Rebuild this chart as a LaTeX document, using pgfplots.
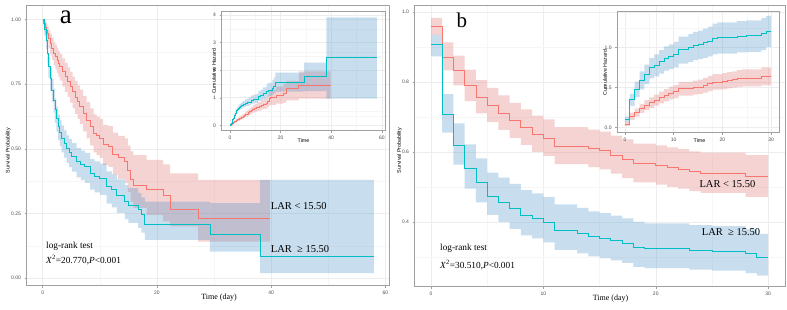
\documentclass[border=0pt]{standalone}
\usepackage{fontspec}
\setmainfont{Liberation Serif}
\setsansfont{Liberation Sans}
\usepackage{pgfplots}
\usepackage{pgfplotstable}
\pgfplotsset{compat=1.18}
\usepgfplotslibrary{fillbetween}
\definecolor{kmred}{HTML}{F8766D}
\definecolor{bandred}{HTML}{E07070}
\definecolor{kmblue}{HTML}{00BFC4}
\definecolor{bandblue}{HTML}{4A94C8}
\definecolor{tickgray}{HTML}{4D4D4D}
\definecolor{framegray}{HTML}{A0A0A0}

% columns: t = time, s = survival, lo/hi = survival CI, h = cumulative hazard, hlo/hhi = its CI
\pgfplotstableread{
t     s     lo    hi    h      hlo    hhi
0     1.000 1.000 1.000 0      0      0
0.2   0.985 0.972 0.996 0.0151 0.0040 0.0284
0.4   0.970 0.945 0.992 0.0305 0.0080 0.0566
0.6   0.958 0.928 0.984 0.0429 0.0161 0.0747
0.8   0.946 0.912 0.975 0.0555 0.0253 0.0921
1.05  0.927 0.888 0.960 0.0758 0.0408 0.1188
1.3   0.907 0.865 0.945 0.0976 0.0566 0.1450
1.6   0.888 0.843 0.929 0.1188 0.0736 0.1708
1.9   0.869 0.822 0.912 0.1404 0.0921 0.1960
2.2   0.856 0.807 0.901 0.1555 0.1043 0.2144
2.5   0.843 0.793 0.890 0.1708 0.1165 0.2319
2.75  0.830 0.778 0.878 0.1863 0.1301 0.2510
3.0   0.817 0.763 0.866 0.2021 0.1438 0.2705
3.45  0.797 0.741 0.849 0.2269 0.1637 0.2998
3.9   0.778 0.720 0.832 0.2510 0.1839 0.3285
4.35  0.759 0.699 0.814 0.2758 0.2058 0.3581
4.8   0.740 0.678 0.797 0.3011 0.2269 0.3886
5.25  0.720 0.656 0.779 0.3285 0.2497 0.4216
5.7   0.700 0.635 0.762 0.3567 0.2718 0.4541
6.1   0.681 0.615 0.745 0.3842 0.2944 0.4861
6.5   0.663 0.595 0.728 0.4110 0.3175 0.5192
7.1   0.637 0.567 0.704 0.4510 0.3510 0.5674
7.7   0.611 0.540 0.680 0.4927 0.3857 0.6162
8.3   0.585 0.513 0.656 0.5361 0.4216 0.6675
8.9   0.560 0.486 0.633 0.5798 0.4573 0.7215
9.45  0.550 0.475 0.624 0.5978 0.4716 0.7444
10.0  0.540 0.465 0.615 0.6162 0.4861 0.7657
10.6  0.515 0.438 0.592 0.6636 0.5242 0.8255
11.5  0.508 0.430 0.587 0.6773 0.5327 0.8440
12.3  0.480 0.400 0.562 0.7340 0.5763 0.9163
13.2  0.465 0.384 0.550 0.7657 0.5978 0.9571
14.4  0.450 0.367 0.540 0.7985 0.6162 1.0024
14.9  0.418 0.334 0.512 0.8723 0.6694 1.0966
15.4  0.380 0.295 0.490 0.9676 0.7133 1.2208
15.9  0.360 0.272 0.475 1.0217 0.7444 1.3020
18.2  0.341 0.245 0.457 1.0759 0.7831 1.4065
21.1  0.320 0.220 0.440 1.1394 0.8210 1.5141
22.3  0.264 0.200 0.405 1.3318 0.9039 1.6094
27.2  0.232 0.141 0.380 1.4610 0.9676 1.9590
39.8  0.232 0.141 0.380 1.4610 0.9676 1.9590
}\redA

\pgfplotstableread{
t     s     lo    hi    h      hlo    hhi
0     1.000 1.000 1.000 0      0      0
0.3   0.960 0.935 0.985 0.0408 0.0151 0.0672
0.6   0.920 0.885 0.950 0.0834 0.0513 0.1222
0.8   0.868 0.830 0.902 0.1416 0.1031 0.1863
1.0   0.817 0.775 0.855 0.2021 0.1567 0.2549
1.3   0.770 0.725 0.810 0.2614 0.2107 0.3216
1.6   0.727 0.680 0.770 0.3188 0.2614 0.3857
1.9   0.688 0.640 0.732 0.3740 0.3120 0.4463
2.15  0.650 0.600 0.695 0.4308 0.3638 0.5108
2.4   0.617 0.566 0.663 0.4829 0.4110 0.5692
2.7   0.585 0.533 0.632 0.5361 0.4589 0.6292
3.0   0.562 0.510 0.611 0.5763 0.4927 0.6733
3.3   0.540 0.486 0.590 0.6162 0.5276 0.7215
3.75  0.521 0.466 0.571 0.6520 0.5604 0.7636
4.2   0.502 0.446 0.552 0.6892 0.5942 0.8074
4.65  0.486 0.429 0.537 0.7215 0.6218 0.8463
5.1   0.470 0.412 0.522 0.7550 0.6501 0.8867
5.95  0.450 0.390 0.503 0.7985 0.6872 0.9416
6.7   0.440 0.379 0.493 0.8210 0.7072 0.9702
7.4   0.430 0.368 0.484 0.8440 0.7257 0.9997
8.3   0.405 0.342 0.460 0.9039 0.7765 1.0729
9.1   0.395 0.332 0.451 0.9289 0.7963 1.1026
10.0  0.386 0.322 0.443 0.9519 0.8142 1.1332
11.2  0.354 0.288 0.413 1.0385 0.8843 1.2448
12.1  0.341 0.274 0.401 1.0759 0.9138 1.2946
13.0  0.320 0.252 0.382 1.1394 0.9623 1.3783
14.4  0.296 0.228 0.360 1.2174 1.0217 1.4784
15.0  0.283 0.214 0.348 1.2623 1.0556 1.5418
16.7  0.264 0.195 0.330 1.3318 1.1087 1.6348
17.3  0.245 0.176 0.312 1.4065 1.1648 1.7373
17.9  0.208 0.148 0.296 1.5702 1.2174 1.9105
29.3  0.171 0.103 0.290 1.7661 1.2379 2.2730
38.1  0.086 0.020 0.380 2.4534 0.9676 3.9120
58.0  0.086 0.020 0.380 2.4534 0.9676 3.9120
}\blueA

\pgfplotstableread{
t   s     lo    hi    h      hlo    hhi
0   0.959 0.935 0.983 0.0419 0.0171 0.0672
1   0.871 0.833 0.913 0.1381 0.0910 0.1827
2   0.833 0.790 0.875 0.1827 0.1335 0.2357
3   0.789 0.745 0.835 0.2370 0.1803 0.2944
4   0.755 0.710 0.805 0.2810 0.2169 0.3425
5   0.733 0.686 0.783 0.3106 0.2446 0.3769
6   0.711 0.663 0.762 0.3411 0.2718 0.4110
7   0.689 0.640 0.740 0.3725 0.3011 0.4463
8   0.670 0.620 0.722 0.4005 0.3257 0.4780
9   0.651 0.600 0.704 0.4292 0.3510 0.5108
10  0.640 0.589 0.693 0.4463 0.3667 0.5293
11  0.617 0.565 0.671 0.4829 0.3990 0.5709
14  0.609 0.557 0.664 0.4959 0.4095 0.5852
15  0.603 0.550 0.658 0.5058 0.4186 0.5978
16  0.591 0.538 0.647 0.5259 0.4354 0.6199
17  0.579 0.525 0.636 0.5464 0.4526 0.6444
18  0.567 0.513 0.624 0.5674 0.4716 0.6675
20  0.561 0.507 0.619 0.5780 0.4797 0.6792
21  0.555 0.500 0.613 0.5888 0.4894 0.6931
22  0.550 0.495 0.608 0.5978 0.4976 0.7032
23  0.543 0.488 0.602 0.6106 0.5075 0.7174
24  0.539 0.483 0.598 0.6180 0.5142 0.7277
28  0.529 0.472 0.591 0.6368 0.5259 0.7508
30  0.529 0.472 0.591 0.6368 0.5259 0.7508
}\redB

\pgfplotstableread{
t   s     lo    hi    h      hlo    hhi
0   0.906 0.873 0.935 0.0987 0.0672 0.1358
1   0.708 0.655 0.765 0.3453 0.2679 0.4231
2   0.618 0.564 0.682 0.4813 0.3827 0.5727
3   0.553 0.495 0.622 0.5924 0.4748 0.7032
4   0.513 0.456 0.582 0.6675 0.5413 0.7853
5   0.472 0.420 0.541 0.7508 0.6143 0.8675
6   0.457 0.400 0.527 0.7831 0.6405 0.9163
7   0.438 0.380 0.509 0.8255 0.6753 0.9676
8   0.419 0.362 0.491 0.8699 0.7113 1.0161
9   0.410 0.353 0.482 0.8916 0.7298 1.0413
10  0.398 0.342 0.471 0.9213 0.7529 1.0729
11  0.377 0.320 0.450 0.9755 0.7985 1.1394
13  0.367 0.310 0.440 1.0024 0.8210 1.1712
14  0.358 0.302 0.430 1.0272 0.8440 1.1973
15  0.353 0.297 0.425 1.0413 0.8557 1.2140
16  0.346 0.290 0.418 1.0613 0.8723 1.2379
17  0.338 0.283 0.410 1.0847 0.8916 1.2623
18  0.327 0.272 0.400 1.1178 0.9163 1.3019
19  0.323 0.268 0.396 1.1301 0.9263 1.3168
23  0.319 0.264 0.391 1.1426 0.9390 1.3318
25  0.316 0.261 0.388 1.1520 0.9467 1.3432
28  0.309 0.254 0.380 1.1744 0.9676 1.3704
29  0.300 0.247 0.366 1.2040 1.0051 1.3984
30  0.300 0.247 0.366 1.2040 1.0051 1.3984
}\blueB

\pgfplotsset{
  kmbase/.style={
    scale only axis,
    axis background/.style={fill=white},
    axis line style={framegray, line width=0.5pt},
    tick pos=left, tick align=outside,
    major tick length=2.2pt, minor tick length=0pt,
    every tick/.style={framegray, line width=0.4pt},
    grid=both,
    major grid style={gray!14, line width=0.45pt},
    minor grid style={gray!7, line width=0.3pt},
    ticklabel style={font=\sffamily\fontsize{5}{6}\selectfont, text=tickgray},
    /pgf/number format/assume math mode=true,
  },
}

% band between two CI columns of a table (step shaped)
\newcommand{\kmband}[5]{%
  \addplot[name path=#5u, const plot, draw=none, forget plot] table[x=t,y=#3]{#1};
  \addplot[name path=#5l, const plot, draw=none, forget plot] table[x=t,y=#2]{#1};
  \addplot[fill=#4, fill opacity=0.3, draw=none, forget plot] fill between[of=#5u and #5l];
}

\begin{document}
\begin{tikzpicture}[x=1pt,y=1pt]

% ---------------- panel a ----------------
\begin{axis}[kmbase,
  at={(26.7pt,23.5pt)}, anchor=south west,
  width=362.3pt, height=279.8pt,
  xmin=-2.8, xmax=60.65, ymin=-0.028, ymax=1.0525,
  xtick={0,20,40,60}, minor xtick={10,30,50},
  ytick={0,0.25,0.5,0.75,1}, minor ytick={0.125,0.375,0.625,0.875},
  yticklabel style={/pgf/number format/.cd, fixed, fixed zerofill, precision=2},
]
\kmband{\redA}{lo}{hi}{bandred}{ra}
\kmband{\blueA}{lo}{hi}{bandblue}{ba}
\addplot[const plot, kmred, line width=0.9pt] table[x=t,y=s]{\redA};
\addplot[const plot, kmblue, line width=0.9pt] table[x=t,y=s]{\blueA};
\end{axis}

% inset a
\begin{axis}[kmbase,
  at={(221.7pt,178.3pt)}, anchor=south west,
  width=163.3pt, height=119.7pt,
  xmin=-3.28, xmax=61.26, ymin=-0.196, ymax=4.144,
  xtick={0,20,40,60}, minor xtick={10,30,50},
  ytick={0,1,2,3,4}, minor ytick={0.5,1.5,2.5,3.5},
]
\kmband{\redA}{hlo}{hhi}{bandred}{rai}
\kmband{\blueA}{hlo}{hhi}{bandblue}{bai}
\addplot[const plot, kmred, line width=0.75pt] table[x=t,y=h]{\redA};
\addplot[const plot, kmblue, line width=0.75pt] table[x=t,y=h]{\blueA};
\end{axis}

% ---------------- panel b ----------------
\begin{axis}[kmbase,
  at={(414.7pt,22.3pt)}, anchor=south west,
  width=370.3pt, height=281.7pt,
  xmin=-1.45, xmax=31.5, ymin=0.215, ymax=1.02,
  xtick={0,10,20,30}, minor xtick={5,15,25},
  ytick={0.4,0.6,0.8,1.0}, minor ytick={0.3,0.5,0.7,0.9},
  yticklabel style={/pgf/number format/.cd, fixed, fixed zerofill, precision=1},
]
\kmband{\redB}{lo}{hi}{bandred}{rb}
\kmband{\blueB}{lo}{hi}{bandblue}{bb}
\addplot[const plot, kmred, line width=0.9pt] table[x=t,y=s]{\redB};
\addplot[const plot, kmblue, line width=0.9pt] table[x=t,y=s]{\blueB};
\end{axis}

% inset b
\begin{axis}[kmbase,
  at={(617.3pt,176.3pt)}, anchor=south west,
  width=162pt, height=121.7pt,
  xmin=-1.58, xmax=31.7, ymin=-0.068, ymax=1.46,
  xtick={0,10,20,30}, minor xtick={5,15,25},
  ytick={0,0.5,1.0}, minor ytick={0.25,0.75,1.25},
  yticklabel style={/pgf/number format/.cd, fixed, fixed zerofill, precision=1},
]
\kmband{\redB}{hlo}{hhi}{bandred}{rbi}
\kmband{\blueB}{hlo}{hhi}{bandblue}{bbi}
\addplot[const plot, kmred, line width=0.75pt] table[x=t,y=h]{\redB};
\addplot[const plot, kmblue, line width=0.75pt] table[x=t,y=h]{\blueB};
\end{axis}

% ---------------- axis titles ----------------
\begin{scope}[every node/.style={font=\sffamily\fontsize{5.3}{6}\selectfont, inner sep=0pt}]
\node[rotate=90] at (8.3,158.5) {Survival Probability};
\node[rotate=90] at (399.5,158.5) {Survival Probability};
\node[rotate=90] at (214,237.7) {Cumulative Hazard};
\node[rotate=90] at (605,236.5) {Cumulative Hazard};
\node at (303.5,168.3) {Time};
\node at (699.5,168.3) {Time};
\end{scope}
\node[font=\fontsize{8}{9}\selectfont, inner sep=0pt] at (219,11.3) {Time (day)};
\node[font=\fontsize{8}{9}\selectfont, inner sep=0pt] at (610.5,10.5) {Time (day)};

% ---------------- panel letters ----------------
\node[font=\fontsize{27}{27}\selectfont, anchor=base west, inner sep=0pt] at (59.7,285.7) {a};
\node[font=\fontsize{21}{21}\selectfont, anchor=base west, inner sep=0pt] at (456.3,281.7) {b};

% ---------------- annotations ----------------
\begin{scope}[every node/.style={anchor=base west, inner sep=0pt}]
\node[font=\fontsize{9.3}{10}\selectfont] at (46,60.8) {log-rank test};
\node[font=\fontsize{9.3}{10}\selectfont] at (46,45.2) {\textit{X}\textsuperscript{2}=20.770,\textit{P}<0.001};
\node[font=\fontsize{10.5}{12}\selectfont] at (270.7,99.8) {LAR < 15.50};
\node[font=\fontsize{10.5}{12}\selectfont] at (270.7,56.2) {LAR\enspace≥ 15.50};
\node[font=\fontsize{9.3}{10}\selectfont] at (440,58.5) {log-rank test};
\node[font=\fontsize{9.3}{10}\selectfont] at (440,40.2) {\textit{X}\textsuperscript{2}=30.510,\textit{P}<0.001};
\node[font=\fontsize{10.5}{12}\selectfont] at (699.3,121.2) {LAR < 15.50};
\node[font=\fontsize{10.5}{12}\selectfont] at (701.7,73.8) {LAR\enspace≥ 15.50};
\end{scope}

\pgfresetboundingbox
\useasboundingbox (0,0) rectangle (787,309);
\end{tikzpicture}
\end{document}
